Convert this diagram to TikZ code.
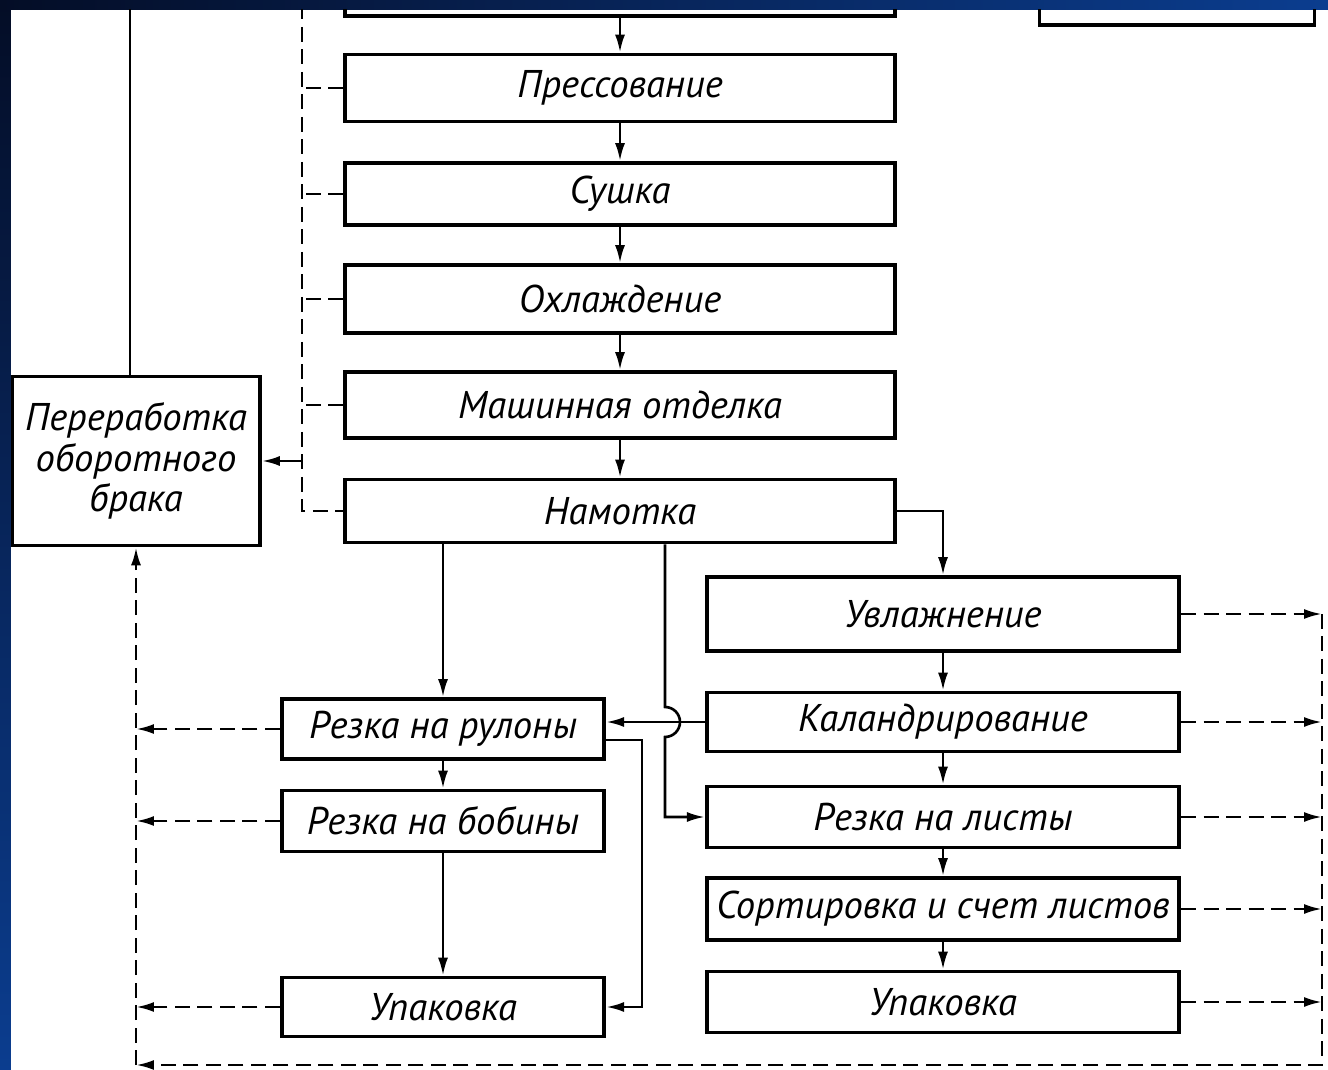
\documentclass[tikz,border=0pt]{standalone}
\usepackage{fontspec}
\setmainfont{PT Sans}
\usetikzlibrary{arrows.meta,calc}
\definecolor{navydark}{HTML}{040D26}
\definecolor{navylight}{HTML}{0B3D8F}
\tikzset{
  box/.style={draw,line width=2.1pt,inner sep=0pt,align=center,
    font=\itshape\fontsize{22}{23}\selectfont},
  line/.style={line width=1.5pt},
  flow/.style={line,-{Latex[length=0.36cm,width=0.2cm]}},
  waste/.style={line,dash pattern=on 0.3cm off 0.15cm},
}
\begin{document}
\begin{tikzpicture}[x=0.02cm,y=-0.02cm]
  \useasboundingbox (0,0) rectangle (1328,1070);
  \shade[top color=navydark,bottom color=navylight] (0,0) rectangle (11,1070);
  \shade[left color=navydark,right color=navylight] (0,0) rectangle (1328,10);
  \fill[white] (11,10) rectangle (1328,1070);
  \begin{scope}
  \clip (11,10) rectangle (1328,1070);
  \node[box,minimum width=11cm,minimum height=1.36cm] (top0) at (620,-18) {};
  \node[box,minimum width=5.5cm,minimum height=1.4cm] (topR) at (1177,-10) {};
  \node[box,minimum width=11cm,minimum height=1.34cm] (press) at (620,88) {Прессование};
  \node[box,minimum width=11cm,minimum height=1.24cm] (dry) at (620,194) {Сушка};
  \node[box,minimum width=11cm,minimum height=1.36cm] (cool) at (620,299) {Охлаждение};
  \node[box,minimum width=11cm,minimum height=1.32cm] (finish) at (620,405) {Машинная отделка};
  \node[box,minimum width=11cm,minimum height=1.26cm] (wind) at (620,511) {Намотка};
  \node[box,minimum width=4.96cm,minimum height=3.38cm] (reject) at (136,461)
    {Переработка\\оборотного\\брака};
  \node[box,minimum width=9.45cm,minimum height=1.48cm] (wet) at (943,614) {Увлажнение};
  \node[box,minimum width=9.45cm,minimum height=1.18cm] (cal) at (943,722) {Каландрирование};
  \node[box,minimum width=9.45cm,minimum height=1.22cm] (sheets) at (943,817) {Резка на листы};
  \node[box,minimum width=9.45cm,minimum height=1.24cm] (sort) at (943,909) {Сортировка и счет листов};
  \node[box,minimum width=9.45cm,minimum height=1.22cm] (packR) at (943,1002) {Упаковка};
  \node[box,minimum width=6.45cm,minimum height=1.2cm] (rolls) at (443,729) {Резка на рулоны};
  \node[box,minimum width=6.45cm,minimum height=1.22cm] (bobb) at (443,821) {Резка на бобины};
  \node[box,minimum width=6.45cm,minimum height=1.18cm] (packL) at (443,1007) {Упаковка};
  \coordinate (up) at (130,-30);
  \coordinate (dl) at (302,0);
  \coordinate (dr) at (1322,0);
  \coordinate (bot) at (136,1065);
  \coordinate (hx) at (665,0);
  \coordinate (rx) at (642,0);
  \foreach \a/\b in {top0/press,press/dry,dry/cool,cool/finish,finish/wind,
    wet/cal,cal/sheets,sheets/sort,sort/packR,rolls/bobb,bobb/packL}
    \draw[flow] (\a) -- (\b);
  \draw[flow] (wind.east) -| (wet);
  \draw[flow] (wind.south -| rolls) -- (rolls);
  \draw[flow] (wind.south -| hx) -- ($(hx |- cal.west)+(0,-15)$)
    arc[start angle=90,end angle=-90,radius=0.3cm] -- (hx |- sheets.west) -- (sheets.west);
  \draw[flow] (cal.west) -- (cal.west -| rolls.east);
  \draw[flow] ([yshift=-0.22cm]rolls.east) -| (rx |- packL.east) -- (packL.east);
  \draw[line] (reject.north -| up) -- (up);
  \draw[waste] (top0.west -| dl) -- (dl |- wind.west) -- (wind.west);
  \foreach \n in {top0,press,dry,cool,finish}
    \draw[waste] (\n.west) -- (\n.west -| dl);
  \draw[flow] (reject.east -| dl) -- (reject.east);
  \draw[flow,waste] (wet.east -| dr) -- (dr |- bot) -- (bot);
  \draw[flow,waste] (reject.south |- bot) -- (reject.south);
  \foreach \n in {rolls,bobb,packL}
    \draw[flow,waste] (\n.west) -- (\n.west -| bot);
  \foreach \n in {wet,cal,sheets,sort,packR}
    \draw[flow,waste] (\n.east) -- (\n.east -| dr);
  \end{scope}
\end{tikzpicture}
\end{document}
